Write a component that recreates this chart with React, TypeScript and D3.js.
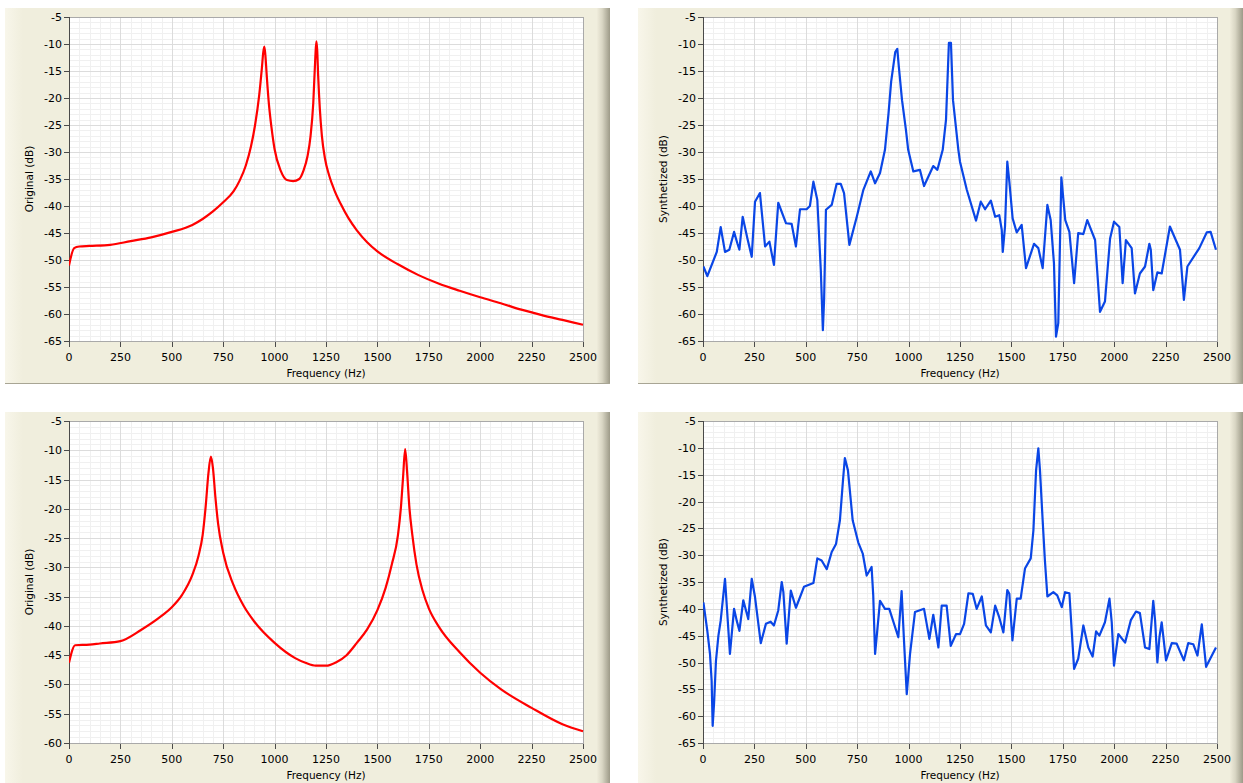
import * as d3 from "d3";

// frequency axis ticks (Hz)
const freqTicks = [0, 250, 500, 750, 1000, 1250, 1500, 1750, 2000, 2250, 2500];

// top-left: original spectrum, first frame
const origAFreq = [0, 25, 50, 100, 200, 300, 400, 500, 600, 650, 700, 750, 800, 830, 860, 885, 905, 925, 938, 945, 950, 955, 962, 972, 985, 1000, 1030, 1060, 1090, 1120, 1140, 1160, 1175, 1188, 1198, 1203, 1207, 1212, 1220, 1230, 1245, 1265, 1290, 1320, 1360, 1400, 1450, 1500, 1600, 1700, 1800, 1900, 2000, 2100, 2200, 2300, 2400, 2500];
const origADb = [-51, -47.8, -47.5, -47.4, -47.2, -46.5, -45.8, -44.8, -43.5, -42.4, -41, -39.3, -37.3, -35.3, -32.5, -29, -25, -19.5, -14.5, -11.5, -10.5, -12, -16, -21, -25.5, -29.5, -33.5, -35.2, -35.4, -35, -33.5, -30.8, -27, -21, -12.5, -9.5, -11, -16, -22, -27, -31.2, -34.3, -37, -39.5, -42.3, -44.5, -46.7, -48.4, -50.8, -52.8, -54.4, -55.7, -56.9, -58, -59.2, -60.2, -61.1, -62];

// top-right: synthesized spectrum, first frame
const synAFreq = [2, 21, 67, 86, 107, 128, 151, 167, 177, 193, 216, 237, 253, 277, 302, 323, 345, 366, 404, 431, 452, 472, 504, 520, 537, 556, 573, 583, 589, 598, 626, 650, 670, 686, 712, 748, 780, 816, 837, 861, 885, 902, 915, 935, 945, 952, 968, 987, 998, 1023, 1055, 1075, 1120, 1140, 1166, 1182, 1196, 1206, 1216, 1242, 1250, 1283, 1328, 1351, 1372, 1400, 1421, 1441, 1453, 1458, 1469, 1480, 1490, 1506, 1526, 1550, 1571, 1610, 1631, 1652, 1675, 1691, 1707, 1717, 1728, 1733, 1743, 1762, 1782, 1805, 1825, 1850, 1869, 1907, 1931, 1955, 1980, 1999, 2025, 2041, 2057, 2085, 2101, 2125, 2150, 2171, 2178, 2190, 2210, 2231, 2271, 2320, 2339, 2356, 2414, 2450, 2469, 2495];
const synADb = [-51.2, -53, -48.5, -43.9, -48.5, -48.1, -44.8, -46.9, -48.1, -42, -46, -49.4, -39.2, -37.6, -47.5, -46.6, -50.9, -39.4, -43.2, -43.3, -47.5, -40.6, -40.6, -40, -35.5, -38.9, -51.9, -63, -57.4, -40.7, -39.8, -35.9, -35.9, -37.6, -47.2, -42, -37, -33.6, -35.8, -33.9, -29.6, -23, -17, -11.5, -10.9, -14, -20.4, -25.9, -29.6, -33.6, -33.3, -36.3, -32.6, -33.3, -29.6, -24, -9.8, -9.8, -20.4, -29.6, -31.8, -37, -42.7, -39.2, -40.6, -39, -42, -41.7, -44.4, -48.5, -43.8, -31.8, -35.5, -42.3, -44.9, -43.5, -51.5, -47, -47.8, -51.5, -39.8, -42.6, -50.6, -64.2, -61.7, -52.8, -34.7, -42.6, -44.8, -54.3, -45, -45.2, -42.6, -46.3, -59.6, -57.7, -46, -42.9, -43.9, -54.3, -46.3, -47.8, -56.2, -52.5, -51.2, -47, -48.1, -55.6, -52.3, -52.5, -43.8, -48.1, -57.4, -51.2, -47.8, -44.9, -44.8, -48.1];

// bottom-left: original spectrum, second frame
const origBFreq = [0, 30, 100, 150, 250, 350, 450, 500, 550, 600, 630, 650, 665, 678, 690, 700, 712, 725, 750, 800, 850, 900, 1000, 1100, 1150, 1200, 1250, 1300, 1350, 1400, 1450, 1500, 1540, 1570, 1600, 1615, 1625, 1635, 1645, 1655, 1670, 1690, 1720, 1750, 1800, 1900, 2000, 2100, 2250, 2400, 2500];
const origBDb = [-46.3, -43.3, -43.2, -43, -42.6, -40.7, -38.3, -36.8, -34.7, -31.3, -28, -24.5, -19.5, -14, -11.1, -13, -18, -22.5, -27.5, -33, -36.6, -39.2, -42.9, -45.5, -46.3, -46.8, -46.8, -46.2, -45, -42.9, -40.6, -37.3, -33.5, -29.5, -24.5, -19.5, -14.5, -9.8, -14, -19.5, -24.5, -29.5, -34, -37, -40.2, -44.5, -48, -50.8, -54, -56.8, -58];

// bottom-right: synthesized spectrum, second frame
const synBFreq = [2, 21, 34, 42, 47, 54, 63, 75, 86, 107, 131, 151, 164, 177, 196, 220, 237, 253, 281, 306, 329, 345, 366, 383, 391, 407, 427, 452, 491, 537, 556, 577, 602, 626, 647, 666, 681, 690, 705, 728, 755, 777, 796, 820, 828, 837, 861, 885, 906, 950, 966, 978, 991, 1007, 1031, 1075, 1101, 1120, 1145, 1161, 1185, 1205, 1231, 1250, 1270, 1291, 1312, 1331, 1356, 1376, 1400, 1421, 1441, 1461, 1480, 1490, 1505, 1526, 1545, 1566, 1594, 1607, 1620, 1631, 1639, 1652, 1663, 1675, 1704, 1723, 1745, 1761, 1782, 1805, 1825, 1850, 1874, 1895, 1912, 1928, 1955, 1977, 1988, 1999, 2020, 2053, 2081, 2106, 2125, 2150, 2171, 2190, 2199, 2210, 2220, 2231, 2252, 2280, 2304, 2339, 2360, 2385, 2405, 2426, 2447, 2495];
const synBDb = [-38.8, -44.1, -48.4, -53.4, -61.8, -57.5, -49.7, -45, -42.2, -34.4, -48.4, -40, -42.2, -44.1, -38.4, -41.9, -34.4, -37.8, -46.4, -42.8, -42.4, -43.1, -40.3, -35, -36.9, -46.5, -36.6, -39.8, -35.9, -35.2, -30.6, -31, -32.6, -29.4, -27.9, -23.5, -16, -11.9, -14.2, -23.5, -27.6, -29.7, -33.8, -32.2, -37.5, -48.4, -38.5, -40, -40, -45.3, -36.7, -46.2, -55.9, -48.4, -40.6, -40, -45.6, -41.1, -47.2, -39.4, -39.4, -46.9, -44.7, -44.7, -42.8, -37.1, -37.2, -40, -37.7, -43.1, -44.4, -39.4, -41.6, -44.4, -36.5, -37.2, -45.9, -38.1, -38.1, -32.5, -30.6, -25.4, -14.2, -10.1, -14.2, -23.5, -31, -37.7, -36.9, -37.5, -39.7, -36.9, -37.1, -51.2, -49.3, -43.1, -47.2, -48.9, -44.2, -45, -42.5, -38.1, -42.5, -50.6, -44.7, -46.3, -42.1, -40.5, -40.8, -47.2, -47.5, -38.5, -42.2, -50, -45.3, -42.5, -49.6, -46.4, -46.5, -49.6, -46.4, -46.6, -48.7, -42.9, -50.8, -47.2];

const dbTicksA = [-5, -10, -15, -20, -25, -30, -35, -40, -45, -50, -55, -60, -65];
const dbTicksB = [-5, -10, -15, -20, -25, -30, -35, -40, -45, -50, -55, -60];

const FONT = "Tahoma, 'DejaVu Sans', sans-serif";

type PanelProps = {
  x: number;
  y: number;
  plotLeft: number;
  plotH: number;
  freq: number[];
  db: number[];
  yMin: number;
  yTicks: number[];
  color: string;
  smooth: boolean;
  yLabel: string;
  id: string;
};

function Panel({ x, y, plotLeft, plotH, freq, db, yMin, yTicks, color, smooth, yLabel, id }: PanelProps) {
  const panelW = 605;
  const panelH = 376;
  const plotTop = 9;
  const plotW = 514;

  const xs = d3.scaleLinear().domain([0, 2500]).range([plotLeft, plotLeft + plotW]);
  const ys = d3.scaleLinear().domain([yMin, -5]).range([plotTop + plotH, plotTop]);

  const minorX = d3.range(0, 2501, 50);
  const minorY = d3.range(yMin, -4, 1);

  const line = d3.line<number>()
    .x((_, i) => xs(freq[i]))
    .y((d) => ys(d))
    .curve(smooth ? d3.curveMonotoneX : d3.curveLinear);

  const bottom = plotTop + plotH;

  return (
    <g transform={`translate(${x},${y})`}>
      <defs>
        <linearGradient id={`shade-${id}`} x1="0" x2="1" y1="0" y2="0">
          <stop offset="0" stopColor="#efecdb" />
          <stop offset="0.4" stopColor="#d9d6c4" />
          <stop offset="1" stopColor="#9d9a88" />
        </linearGradient>
        <linearGradient id={`left-${id}`} x1="0" x2="1" y1="0" y2="0">
          <stop offset="0" stopColor="#f8f6ea" />
          <stop offset="1" stopColor="#f0eedd" />
        </linearGradient>
        <clipPath id={`clip-${id}`}>
          <rect x={plotLeft} y={plotTop - 2} width={plotW + 1} height={plotH + 4} />
        </clipPath>
      </defs>
      {/* panel background */}
      <rect x={0} y={0} width={panelW} height={panelH} fill="#f0eedd" />
      <rect x={0} y={0} width={18} height={panelH} fill={`url(#left-${id})`} />
      <rect x={panelW - 13} y={0} width={13} height={panelH} fill={`url(#shade-${id})`} />
      <line x1={0} x2={panelW} y1={panelH - 0.5} y2={panelH - 0.5} stroke="#a8a594" />

      {/* plot area */}
      <rect x={plotLeft} y={plotTop} width={plotW} height={plotH} fill="#ffffff" />
      {minorX.map((f) => (
        <line key={`mx${f}`} x1={Math.round(xs(f)) + 0.5} x2={Math.round(xs(f)) + 0.5} y1={plotTop} y2={bottom} stroke="#f0f0f0" />
      ))}
      {minorY.map((v) => (
        <line key={`my${v}`} x1={plotLeft} x2={plotLeft + plotW} y1={Math.round(ys(v)) + 0.5} y2={Math.round(ys(v)) + 0.5} stroke="#f0f0f0" />
      ))}
      {freqTicks.map((f) => (
        <line key={`gx${f}`} x1={Math.round(xs(f)) + 0.5} x2={Math.round(xs(f)) + 0.5} y1={plotTop} y2={bottom} stroke="#dcdcdc" />
      ))}
      {yTicks.map((v) => (
        <line key={`gy${v}`} x1={plotLeft} x2={plotLeft + plotW} y1={Math.round(ys(v)) + 0.5} y2={Math.round(ys(v)) + 0.5} stroke="#dcdcdc" />
      ))}
      <rect x={plotLeft + 0.5} y={plotTop + 0.5} width={plotW} height={plotH} fill="none" stroke="#a9a9a9" />
      <line x1={plotLeft + 0.5} x2={plotLeft + 0.5} y1={plotTop} y2={bottom + 1} stroke="#4a4a4a" />

      {/* data */}
      <path d={line(db) ?? ""} fill="none" stroke={color} strokeWidth={2.2} strokeLinejoin="round" clipPath={`url(#clip-${id})`} />

      {/* y axis */}
      {yTicks.map((v) => (
        <g key={`yt${v}`}>
          <line x1={plotLeft - 5} x2={plotLeft} y1={Math.round(ys(v)) + 0.5} y2={Math.round(ys(v)) + 0.5} stroke="#4a4a4a" />
          <text x={plotLeft - 7} y={ys(v) + 4} textAnchor="end" fontSize={11} fontFamily={FONT} fill="#000">{v}</text>
        </g>
      ))}
      {/* x axis */}
      {freqTicks.map((f) => (
        <g key={`xt${f}`}>
          <line x1={Math.round(xs(f)) + 0.5} x2={Math.round(xs(f)) + 0.5} y1={bottom + 1} y2={bottom + 6} stroke="#4a4a4a" />
          <text x={xs(f)} y={bottom + 20} textAnchor="middle" fontSize={11} fontFamily={FONT} fill="#000">{f}</text>
        </g>
      ))}
      <text x={plotLeft + plotW / 2} y={bottom + 36} textAnchor="middle" fontSize={10.5} fontFamily={FONT} fill="#000">Frequency (Hz)</text>
      <text transform={`translate(${plotLeft - 36},${plotTop + plotH / 2}) rotate(-90)`} textAnchor="middle" fontSize={10.5} fontFamily={FONT} fill="#000">{yLabel}</text>
    </g>
  );
}

export default function App() {
  return (
    <svg width={1243} height={783} style={{ position: "absolute", left: 0, top: 0, background: "#fff" }}>
      <Panel id="a" x={5} y={8} plotLeft={64} plotH={324} freq={origAFreq} db={origADb} yMin={-65} yTicks={dbTicksA} color="#ff0000" smooth={true} yLabel="Original (dB)" />
      <Panel id="b" x={638} y={8} plotLeft={65} plotH={324} freq={synAFreq} db={synADb} yMin={-65} yTicks={dbTicksA} color="#0a46e6" smooth={false} yLabel="Synthetized (dB)" />
      <Panel id="c" x={5} y={412} plotLeft={64} plotH={322} freq={origBFreq} db={origBDb} yMin={-60} yTicks={dbTicksB} color="#ff0000" smooth={true} yLabel="Original (dB)" />
      <Panel id="d" x={638} y={412} plotLeft={65} plotH={322} freq={synBFreq} db={synBDb} yMin={-65} yTicks={dbTicksA} color="#0a46e6" smooth={false} yLabel="Synthetized (dB)" />
    </svg>
  );
}
